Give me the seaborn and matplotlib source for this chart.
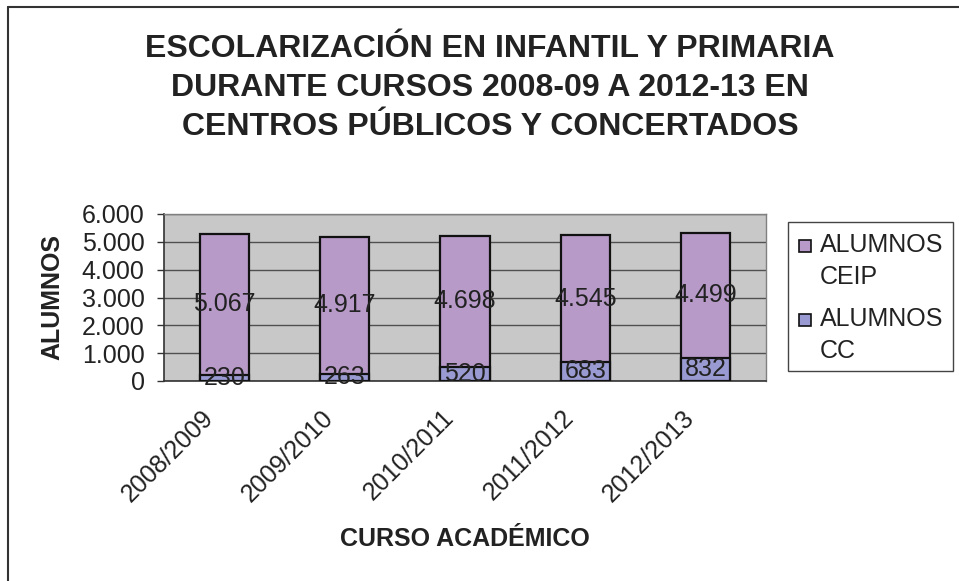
import matplotlib
matplotlib.use("Agg")
import matplotlib.pyplot as plt
from matplotlib.lines import Line2D
from matplotlib.patches import Rectangle
from matplotlib.transforms import ScaledTranslation
import seaborn as sns
import pandas as pd

# Data
cursos = ["2008/2009", "2009/2010", "2010/2011", "2011/2012", "2012/2013"]
alumnos_ceip = [5067, 4917, 4698, 4545, 4499]
alumnos_cc = [230, 263, 520, 683, 832]
series = ["ALUMNOS CEIP", "ALUMNOS CC"]
colors = ["#B89AC9", "#9A9AD2"]


def fmt(v):
    return f"{v:,.0f}".replace(",", ".")


def main():
    sns.set_theme(style="white")
    plt.rcParams["font.family"] = ["Liberation Sans", "DejaVu Sans"]

    df = pd.DataFrame({"curso": cursos, "ceip": alumnos_ceip, "cc": alumnos_cc})
    df["total"] = df["ceip"] + df["cc"]

    W, H = 959, 581
    fig = plt.figure(figsize=(W / 100, H / 100), dpi=100)
    ax = fig.add_axes([164 / W, 200 / H, 602 / W, 167 / H])
    ax.set_facecolor("#C8C8C8")

    # stacked bars: total first (CEIP colour), CC drawn on top
    sns.barplot(data=df, x="curso", y="total", color=colors[0], width=0.41,
                edgecolor="#111111", linewidth=1.6, saturation=1, ax=ax, zorder=3)
    sns.barplot(data=df, x="curso", y="cc", color=colors[1], width=0.41,
                edgecolor="#111111", linewidth=1.6, saturation=1, ax=ax, zorder=3)

    # value labels
    for i, row in df.iterrows():
        ax.text(i, row["cc"] + row["ceip"] / 2, fmt(row["ceip"]), ha="center",
                va="center", fontsize=18, color="#222222", zorder=5)
        ax.text(i, row["cc"] / 2, fmt(row["cc"]), ha="center", va="center",
                fontsize=18, color="#222222", zorder=5)

    ax.set_ylim(0, 6000)
    ax.set_xlim(-0.5, len(cursos) - 0.5)
    ax.set_yticks(range(0, 6001, 1000))
    ax.set_yticklabels([fmt(v) for v in range(0, 6001, 1000)])
    ax.yaxis.grid(True, color="#505050", linewidth=1)
    ax.set_axisbelow(True)

    # category labels, rotated 45 degrees below each bar
    ax.set_xticks(range(len(cursos)))
    ax.tick_params(axis="x", which="major", length=0, labelbottom=False)
    lab_tr = ax.get_xaxis_transform() + ScaledTranslation(-15 / 100, -33 / 100, fig.dpi_scale_trans)
    for i, c in enumerate(cursos):
        ax.text(i, 0, c, transform=lab_tr, rotation=45, rotation_mode="anchor",
                ha="right", va="center", fontsize=18, color="#222222")
    ax.set_xticks([i - 0.5 for i in range(len(cursos) + 1)], minor=True)
    ax.tick_params(axis="x", which="minor", length=5, width=1, color="#333333", direction="out")
    ax.tick_params(axis="y", length=5, width=1, color="#333333", direction="out",
                   pad=9, labelsize=18, labelcolor="#222222", left=True)

    for side in ["top", "right"]:
        ax.spines[side].set_color("#808080")
        ax.spines[side].set_linewidth(1)
    for side in ["left", "bottom"]:
        ax.spines[side].set_color("#333333")
        ax.spines[side].set_linewidth(1.2)

    ax.set_xlabel("CURSO ACADÉMICO", fontsize=18, fontweight="bold", color="#222222")
    ax.set_ylabel("ALUMNOS", fontsize=18, fontweight="bold", color="#222222")
    ax.xaxis.set_label_coords(0.5, -0.875)
    ax.yaxis.set_label_coords(-0.165, 0.5)

    fig.text(490 / W, 1 - 88 / H,
             "ESCOLARIZACIÓN EN INFANTIL Y PRIMARIA\nDURANTE CURSOS 2008-09 A 2012-13 EN\n"
             "CENTROS PÚBLICOS Y CONCERTADOS",
             ha="center", va="center", fontsize=23, fontweight="bold",
             color="#222222", linespacing=1.37)

    # legend box
    fig.add_artist(Rectangle((788 / W, 1 - 371 / H), 165 / W, 149 / H,
                             transform=fig.transFigure, fill=False,
                             edgecolor="#444444", linewidth=1))
    for k, (name, col) in enumerate(zip(series, colors)):
        cy = [246, 320][k]
        fig.add_artist(Rectangle((799 / W, 1 - (cy + 6) / H), 12 / W, 12 / H,
                                 transform=fig.transFigure, facecolor=col,
                                 edgecolor="#111111", linewidth=1.2))
        fig.text(820 / W, 1 - (cy + 38) / H, name.replace(" ", "\n"),
                 ha="left", va="baseline", fontsize=18, color="#222222",
                 linespacing=1.4)

    # outer border (only top and left visible)
    bx, by = 8 / W, 1 - 7 / H
    fig.add_artist(Line2D([bx, bx], [0, by], transform=fig.transFigure,
                          color="#333333", linewidth=1.5))
    fig.add_artist(Line2D([bx, 1], [by, by], transform=fig.transFigure,
                          color="#333333", linewidth=1.5))

    fig.savefig("out.png", dpi=100, facecolor="white")


if __name__ == "__main__":
    main()
